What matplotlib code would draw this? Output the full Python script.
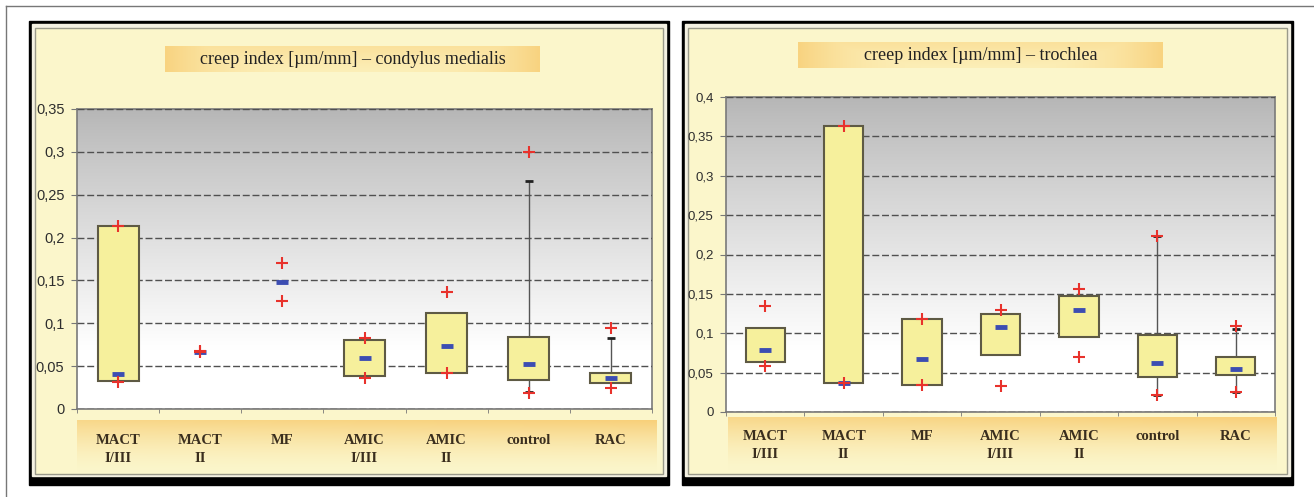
import numpy as np
import matplotlib
matplotlib.use("Agg")
import matplotlib.pyplot as plt
from matplotlib.patches import Rectangle
from matplotlib.colors import to_rgb

nan = np.nan

groups = ["MACT\nI/III", "MACT\nII", "MF", "AMIC\nI/III", "AMIC\nII", "control", "RAC"]

# condylus medialis
med_box_lo = [0.033, nan, nan, 0.038, 0.042, 0.034, 0.030]
med_box_hi = [0.213, nan, nan, 0.080, 0.112, 0.084, 0.042]
med_median = [0.041, 0.067, 0.148, 0.060, 0.073, 0.052, 0.036]
med_min = [0.032, 0.067, 0.126, 0.036, 0.042, 0.019, 0.024]
med_max = [0.213, 0.068, 0.170, 0.083, 0.137, 0.300, 0.095]
med_whisk_lo = [nan, nan, nan, nan, nan, 0.020, nan]
med_whisk_hi = [nan, nan, nan, nan, nan, 0.266, 0.083]

# trochlea
tro_box_lo = [0.063, 0.037, 0.0345, 0.072, 0.095, 0.044, 0.047]
tro_box_hi = [0.107, 0.363, 0.1185, 0.124, 0.147, 0.098, 0.070]
tro_median = [0.079, 0.037, 0.067, 0.108, 0.129, 0.062, 0.054]
tro_min = [0.058, 0.037, 0.034, 0.033, 0.070, 0.022, 0.025]
tro_max = [0.135, 0.363, 0.118, 0.130, 0.156, 0.224, 0.109]
tro_whisk_lo = [nan, nan, nan, nan, nan, 0.022, 0.025]
tro_whisk_hi = [nan, nan, nan, nan, nan, 0.2235, 0.105]

W, H = 1314, 497
YELLOW = "#FBF6CB"
ORANGE = "#F8D07A"

fig = plt.figure(figsize=(W / 100, H / 100), dpi=100)
fig.patch.set_facecolor("white")

bg = fig.add_axes([0, 0, 1, 1])
bg.set_xlim(0, W)
bg.set_ylim(H, 0)
bg.axis("off")


def frac(x0, y0, x1, y1):
    return [x0 / W, 1 - y1 / H, (x1 - x0) / W, (y1 - y0) / H]


def lerp_img(c0, c1, f):
    a, b = np.array(to_rgb(c0)), np.array(to_rgb(c1))
    return a + (b - a) * f[..., None]


# thin outer border
bg.plot([6, W], [6, 6], color="#777777", lw=1)
bg.plot([6, 6], [6, H], color="#777777", lw=1)


def panel_frame(x0, y0, x1, y1):
    bg.add_patch(Rectangle((x0, y0), x1 - x0, y1 - y0, color="black", zorder=1))
    bg.add_patch(Rectangle((x0 + 3, y0 + 3), x1 - x0 - 6, y1 - y0 - 12,
                           color="#F4F1E2", zorder=2))
    bg.add_patch(Rectangle((x0 + 6, y0 + 7), x1 - x0 - 12, y1 - y0 - 18,
                           facecolor=YELLOW, edgecolor="#9A9A8A", lw=1, zorder=3))


def title_box(x0, y0, x1, y1, text):
    xs = np.linspace(-1, 1, 200)
    ys = np.linspace(0, 1, 40)
    fx = np.abs(xs)[None, :] ** 3
    fy = (1 - ys)[:, None] * 0.5
    f = np.clip(np.maximum(fx, fy) * 0.9, 0, 1)
    img = lerp_img("#FCEFB8", ORANGE, f)
    bg.imshow(img, extent=[x0, x1, y1, y0], aspect="auto", zorder=4)
    bg.text((x0 + x1) / 2, (y0 + y1) / 2 + 1, text, ha="center", va="center",
            family="Liberation Serif", fontsize=13, color="#222222", zorder=5)


def cat_band(x0, y0, x1, y1):
    ys = np.linspace(0, 1, 60)
    xs = np.linspace(0, 1, 200)
    f = (1 - ys)[:, None] ** 1.5 * (0.8 + 0.2 * xs[None, :])
    img = lerp_img(YELLOW, ORANGE, np.clip(f, 0, 1))
    bg.imshow(img, extent=[x0, x1, y1, y0], aspect="auto", zorder=4)


def fmt(v):
    if v == 0:
        return "0"
    return ("%.2f" % v).rstrip("0").replace(".", ",")


def draw_panel(rect, ymax, box_lo, box_hi, median, vmin, vmax, wlo, whi,
               ysize, xpad):
    ax = fig.add_axes(frac(*rect))
    ax.set_facecolor("none")
    n = len(groups)
    x = np.arange(n)

    # grey-to-white background of the plot area
    t = np.linspace(0, 1, 200)
    f = np.clip(t / 0.8, 0, 1) ** 0.9
    grad = lerp_img("#B6B6B6", "#FFFFFF", f[:, None] * np.ones((1, 2)))
    ax.imshow(grad, extent=[-0.5, n - 0.5, 0, ymax], aspect="auto",
              origin="upper", zorder=0)

    lo, hi = np.array(box_lo), np.array(box_hi)
    ax.bar(x, hi - lo, bottom=lo, width=0.5, color="#F6F09C",
           edgecolor="#5E5A44", lw=1.5, zorder=3)

    # whiskers with black caps
    for i in range(n):
        if not np.isnan(whi[i]):
            ax.vlines(i, hi[i], whi[i], color="#555555", lw=1, zorder=2)
            ax.hlines(whi[i], i - 0.05, i + 0.05, color="#222222", lw=2, zorder=4)
        if not np.isnan(wlo[i]):
            ax.vlines(i, wlo[i], lo[i], color="#555555", lw=1, zorder=2)
            ax.hlines(wlo[i], i - 0.05, i + 0.05, color="#222222", lw=2, zorder=4)

    ax.plot(x, median, ls="none", marker="_", ms=9, mew=3.5,
            color="#3C4DB2", zorder=5)
    ax.plot(x, vmin, ls="none", marker="+", ms=8, mew=1.5,
            color="#E8322C", zorder=6)
    ax.plot(x, vmax, ls="none", marker="+", ms=8, mew=1.5,
            color="#E8322C", zorder=6)

    ax.set_xlim(-0.5, n - 0.5)
    ax.set_ylim(0, ymax)
    yt = np.round(np.arange(0, ymax + 1e-9, 0.05), 2)
    ax.set_yticks(yt)
    ax.set_yticklabels([fmt(v) for v in yt], family="Liberation Sans",
                       fontsize=ysize, color="#2E2E2E")
    ax.yaxis.grid(True, linestyle=(0, (5, 2)), color="#505050", lw=1)
    ax.set_axisbelow(False)
    for gl in ax.get_ygridlines():
        gl.set_zorder(1)

    ax.set_xticks(x)
    ax.set_xticklabels(groups, family="Liberation Serif", fontsize=10.5,
                       fontweight="bold", color="#3A2E1E", linespacing=1.5)
    ax.set_xticks(np.arange(n + 1) - 0.5, minor=True)
    ax.tick_params(axis="x", which="major", length=0, pad=xpad)
    ax.tick_params(axis="x", which="minor", length=3, color="#777777")
    ax.tick_params(axis="y", length=4, color="#777777", pad=5)
    for s in ax.spines.values():
        s.set_color("#7A7A7A")
        s.set_linewidth(1.2)
    return ax


# left panel
panel_frame(29, 21, 669, 485)
title_box(165, 46, 540, 72, "creep index [µm/mm] – condylus medialis")
cat_band(77, 420, 657, 472)
draw_panel((77, 109, 652, 409), 0.35, med_box_lo, med_box_hi, med_median,
           med_min, med_max, med_whisk_lo, med_whisk_hi, 10.5, 18)

# right panel
panel_frame(682, 21, 1293, 485)
title_box(798, 42, 1163, 68, "creep index [µm/mm] – trochlea")
cat_band(728, 417, 1277, 470)
draw_panel((726, 97, 1275, 412), 0.4, tro_box_lo, tro_box_hi, tro_median,
           tro_min, tro_max, tro_whisk_lo, tro_whisk_hi, 9.5, 13)

fig.savefig("out.png", dpi=100)
